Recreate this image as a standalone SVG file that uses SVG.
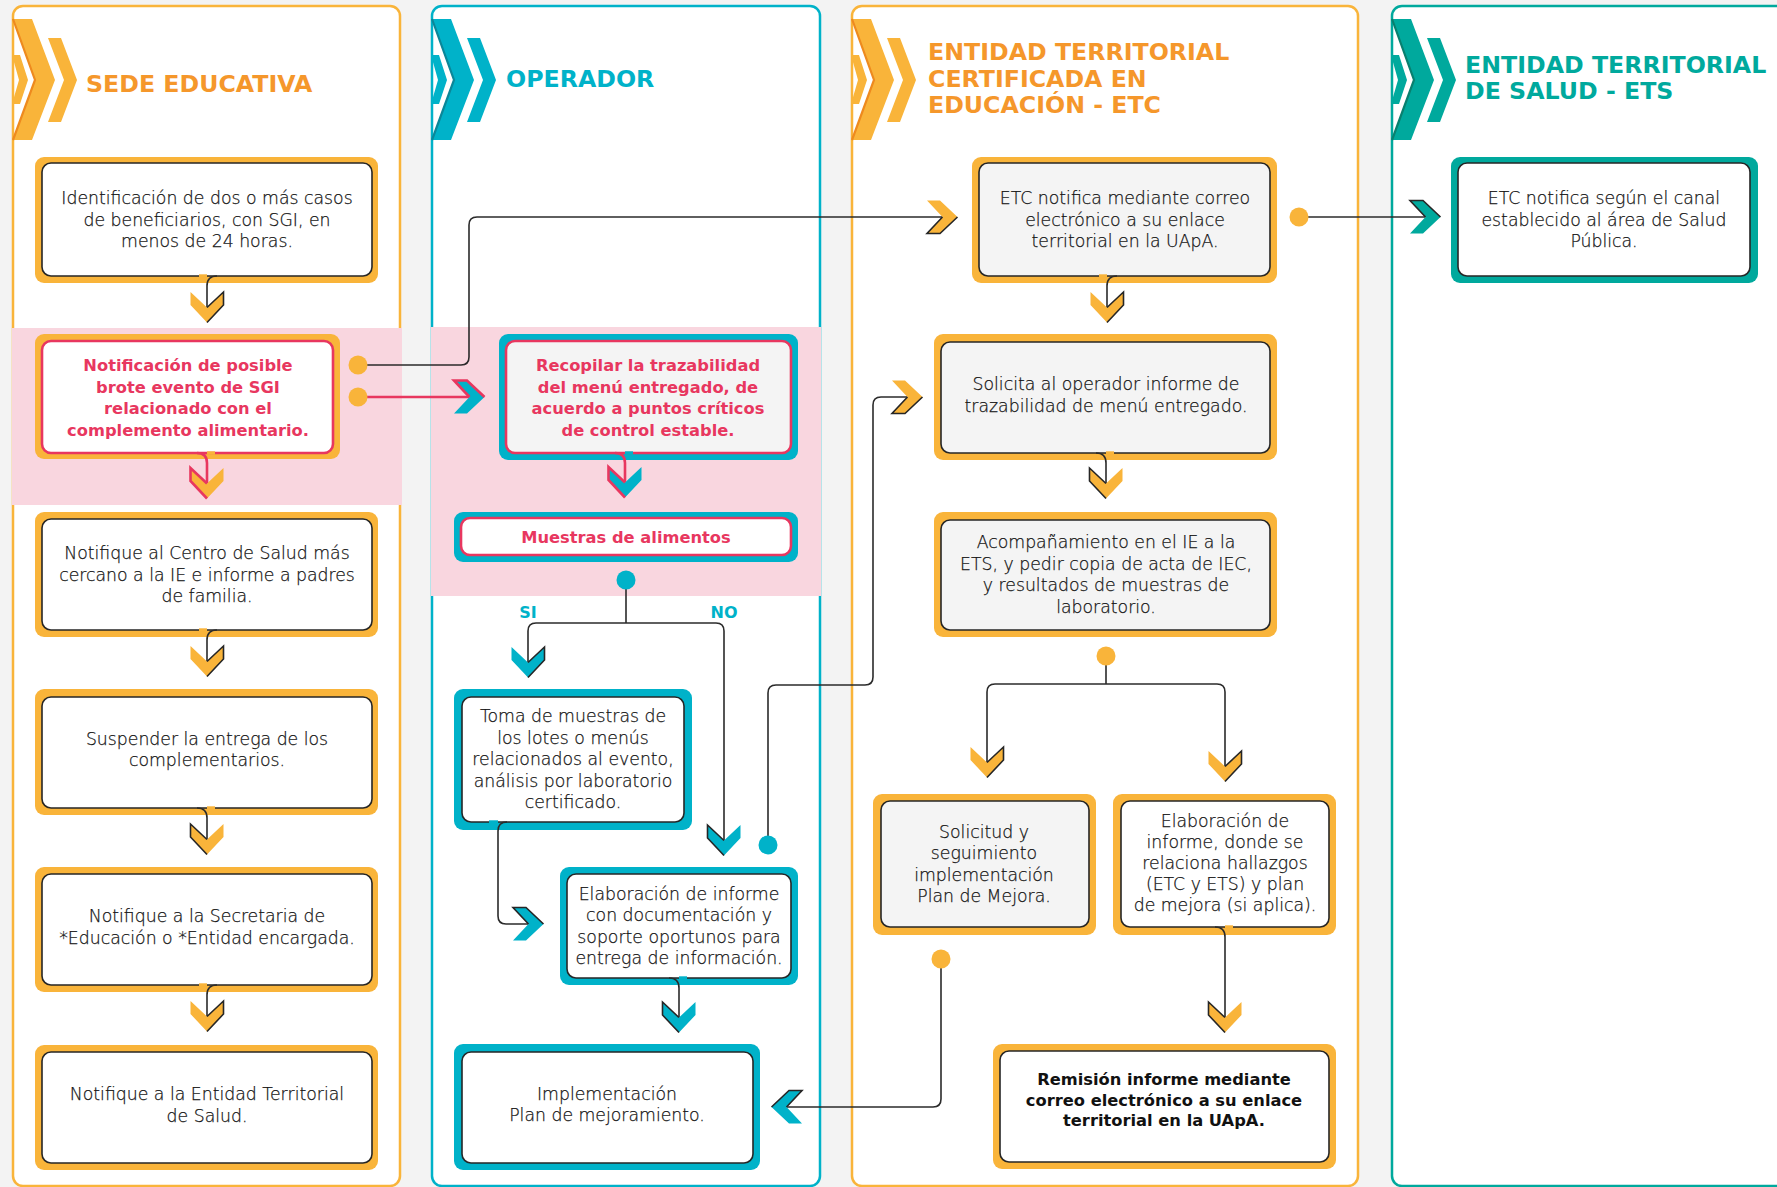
<svg xmlns="http://www.w3.org/2000/svg" width="1777" height="1187" viewBox="0 0 1777 1187">
<style>
.bg{fill:#f3f3f3}
.pnl{fill:#fff;stroke-width:2.5}
.po{stroke:#F9B43A}.pt{stroke:#00B2C9}.pg{stroke:#00A99D}
.band{fill:#F9D6DF}
.fo{fill:#F9B43A}.ft{fill:#00B2C9}.fg{fill:#00A99D}
.eo{fill:none;stroke:#EE8A1E;stroke-width:2.2}
.et{fill:none;stroke:#0A8799;stroke-width:2.2}
.eg{fill:none;stroke:#08806F;stroke-width:2.2}
.in{fill:#fff;stroke:#262626;stroke-width:1.6}
.ing{fill:#f4f4f4;stroke:#262626;stroke-width:1.6}
.inp{fill:#fff;stroke:#E8375F;stroke-width:2.6}
.inpg{fill:#f4f4f4;stroke:#E8375F;stroke-width:2.6}
.gapo{stroke:#F9B43A;stroke-width:3.4}
.gapt{stroke:#00B2C9;stroke-width:3.4}
.ttl{font-family:"DejaVu Sans","Liberation Sans",sans-serif;font-weight:700;font-size:23.7px}
.to{fill:#F5972B}.tt{fill:#00B2C9}.tg{fill:#00A99D}
.tx{font-family:"DejaVu Sans","Liberation Sans",sans-serif;font-weight:300;font-size:17.3px;fill:#161616;stroke:#161616;stroke-width:0.25;text-anchor:middle}
.txp{font-family:"DejaVu Sans","Liberation Sans",sans-serif;font-weight:700;font-size:16.3px;fill:#E8375F;text-anchor:middle}
.txb{font-family:"DejaVu Sans","Liberation Sans",sans-serif;font-weight:700;font-size:16.3px;fill:#111;text-anchor:middle}
.lbl{font-family:"DejaVu Sans","Liberation Sans",sans-serif;font-weight:700;font-size:16px;fill:#00B2C9;text-anchor:middle}
.conn{fill:none;stroke:#2b2b2b;stroke-width:1.6}
.connp{fill:none;stroke:#E8375F;stroke-width:2.6}
.ol{fill:none;stroke:#262626;stroke-width:1.6}
.olp{fill:none;stroke:#E8375F;stroke-width:2.6}
.dto{fill:#F9B43A}.dtt{fill:#00B2C9}
</style>
<defs>
<polygon id="cd" points="-16.5,0 0,15.5 16.5,0 16.5,13 0,30.5 -16.5,13"/>
<polyline id="cdR" points="0,15.5 16.5,0 16.5,13 0,30.5"/>
<polyline id="cdL" points="0,15.5 -16.5,0 -16.5,13 0,30.5"/>
<polygon id="cr" points="0,16.5 15.5,0 0,-16.5 13,-16.5 30.5,0 13,16.5"/>
<polyline id="crT" points="15.5,0 0,-16.5 13,-16.5 30.5,0"/>
<polyline id="crB" points="15.5,0 0,16.5 13,16.5 30.5,0"/>
<polygon id="cl" points="0,16.5 -15.5,0 0,-16.5 -13,-16.5 -30.5,0 -13,16.5"/>
<polyline id="clT" points="-15.5,0 0,-16.5 -13,-16.5 -30.5,0"/>
<polygon id="hs" points="-1,55 7,55 15,80 7,104 -1,104 6,80"/>
<polygon id="hb" points="0,19 19,19 42,80 19,140 0,140 22,80"/>
<polygon id="h2" points="35,38 48,38 64,80 48,122 35,122 51,80"/>
<polyline id="he" points="0,19 22,80 0,140"/>
</defs>
<rect class="bg" x="0" y="0" width="1777" height="1187"/>

<g id="lanes">
<g id="lane-sede">
<rect class="pnl po" x="13" y="6" width="387" height="1180" rx="10"/>
<g transform="translate(13,0)"><use href="#hs" class="fo"/><use href="#hb" class="fo"/><use href="#h2" class="fo"/><use href="#he" class="eo"/></g>
<text class="ttl to" x="86" y="92">SEDE EDUCATIVA</text>
</g>
<g id="lane-operador">
<rect class="pnl pt" x="432" y="6" width="388" height="1180" rx="10"/>
<g transform="translate(432,0)"><use href="#hs" class="ft"/><use href="#hb" class="ft"/><use href="#h2" class="ft"/><use href="#he" class="et"/></g>
<text class="ttl tt" x="506" y="87">OPERADOR</text>
</g>
<g id="lane-etc">
<rect class="pnl po" x="852" y="6" width="506" height="1180" rx="10"/>
<g transform="translate(852,0)"><use href="#hs" class="fo"/><use href="#hb" class="fo"/><use href="#h2" class="fo"/><use href="#he" class="eo"/></g>
<text class="ttl to" x="928" y="60">ENTIDAD TERRITORIAL</text>
<text class="ttl to" x="928" y="86.5">CERTIFICADA EN</text>
<text class="ttl to" x="928" y="113">EDUCACIÓN - ETC</text>
</g>
<g id="lane-ets">
<rect class="pnl pg" x="1392" y="6" width="420" height="1180" rx="10"/>
<g transform="translate(1392,0)"><use href="#hs" class="fg"/><use href="#hb" class="fg"/><use href="#h2" class="fg"/><use href="#he" class="eg"/></g>
<text class="ttl tg" x="1465" y="73">ENTIDAD TERRITORIAL</text>
<text class="ttl tg" x="1465" y="99">DE SALUD - ETS</text>
</g>
<rect class="band" x="12" y="328" width="390" height="177"/>
<rect class="band" x="431" y="327" width="390" height="269"/>
</g>

<g id="n-identificacion">
<rect class="fo" x="35" y="157" width="343" height="126" rx="9"/>
<rect class="in" x="42" y="163" width="330" height="113" rx="9"/>
<line class="gapo" x1="199" y1="276" x2="207" y2="276"/>
<text class="tx" x="207" y="204">Identificación de dos o más casos</text>
<text class="tx" x="207" y="225.5">de beneficiarios, con SGI, en</text>
<text class="tx" x="207" y="247">menos de 24 horas.</text>
</g>
<g id="n-notificacion-brote">
<rect class="fo" x="35" y="334" width="305" height="125" rx="9"/>
<rect class="inp" x="42" y="341" width="291" height="112" rx="9"/>
<line class="gapo" x1="207" y1="453" x2="215" y2="453"/>
<text class="txp" x="188" y="371">Notificación de posible</text>
<text class="txp" x="188" y="392.5">brote evento de SGI</text>
<text class="txp" x="188" y="414">relacionado con el</text>
<text class="txp" x="188" y="435.5">complemento alimentario.</text>
</g>
<g id="n-centro-salud">
<rect class="fo" x="35" y="512" width="343" height="125" rx="9"/>
<rect class="in" x="42" y="519" width="330" height="111" rx="9"/>
<line class="gapo" x1="199" y1="630" x2="207" y2="630"/>
<text class="tx" x="207" y="559">Notifique al Centro de Salud más</text>
<text class="tx" x="207" y="581">cercano a la IE e informe a padres</text>
<text class="tx" x="207" y="602">de familia.</text>
</g>
<g id="n-suspender">
<rect class="fo" x="35" y="689" width="343" height="126" rx="9"/>
<rect class="in" x="42" y="697" width="330" height="111" rx="9"/>
<line class="gapo" x1="207" y1="808" x2="215" y2="808"/>
<text class="tx" x="207" y="745">Suspender la entrega de los</text>
<text class="tx" x="207" y="766">complementarios.</text>
</g>
<g id="n-secretaria">
<rect class="fo" x="35" y="867" width="343" height="125" rx="9"/>
<rect class="in" x="42" y="874" width="330" height="111" rx="9"/>
<line class="gapo" x1="199" y1="985" x2="207" y2="985"/>
<text class="tx" x="207" y="922">Notifique a la Secretaria de</text>
<text class="tx" x="207" y="944">*Educación o *Entidad encargada.</text>
</g>
<g id="n-ets-notif">
<rect class="fo" x="35" y="1045" width="343" height="125" rx="9"/>
<rect class="in" x="42" y="1052" width="330" height="111" rx="9"/>
<text class="tx" x="207" y="1100">Notifique a la Entidad Territorial</text>
<text class="tx" x="207" y="1122">de Salud.</text>
</g>

<g id="n-recopilar">
<rect class="ft" x="499" y="334" width="299" height="126" rx="9"/>
<rect class="inpg" x="506" y="341" width="285" height="112" rx="9"/>
<line class="gapt" x1="625" y1="453" x2="633" y2="453"/>
<text class="txp" x="648" y="371">Recopilar la trazabilidad</text>
<text class="txp" x="648" y="392.5">del menú entregado, de</text>
<text class="txp" x="648" y="414">acuerdo a puntos críticos</text>
<text class="txp" x="648" y="435.5">de control estable.</text>
</g>
<g id="n-muestras">
<rect class="ft" x="454" y="512" width="344" height="50" rx="9"/>
<rect class="inp" x="461" y="518" width="330" height="37" rx="9"/>
<text class="txp" x="626" y="543">Muestras de alimentos</text>
</g>
<g id="n-toma">
<rect class="ft" x="454" y="689" width="238" height="141" rx="9"/>
<rect class="in" x="462" y="697" width="222" height="125" rx="9"/>
<line class="gapt" x1="489" y1="822" x2="498" y2="822"/>
<text class="tx" x="573" y="722">Toma de muestras de</text>
<text class="tx" x="573" y="743.5">los lotes o menús</text>
<text class="tx" x="573" y="765">relacionados al evento,</text>
<text class="tx" x="573" y="786.5">análisis por laboratorio</text>
<text class="tx" x="573" y="808">certificado.</text>
</g>
<g id="n-elaboracion-op">
<rect class="ft" x="560" y="867" width="238" height="118" rx="9"/>
<rect class="in" x="567" y="874" width="224" height="104" rx="9"/>
<line class="gapt" x1="679" y1="978" x2="687" y2="978"/>
<text class="tx" x="679" y="899.5">Elaboración de informe</text>
<text class="tx" x="679" y="921">con documentación y</text>
<text class="tx" x="679" y="942.5">soporte oportunos para</text>
<text class="tx" x="679" y="964">entrega de información.</text>
</g>
<g id="n-implementacion">
<rect class="ft" x="454" y="1044" width="306" height="126" rx="9"/>
<rect class="in" x="462" y="1052" width="291" height="111" rx="9"/>
<text class="tx" x="607" y="1100">Implementación</text>
<text class="tx" x="607" y="1121">Plan de mejoramiento.</text>
</g>

<g id="n-etc-notifica">
<rect class="fo" x="972" y="157" width="305" height="126" rx="9"/>
<rect class="ing" x="979" y="163" width="291" height="113" rx="9"/>
<line class="gapo" x1="1099" y1="276" x2="1107" y2="276"/>
<text class="tx" x="1125" y="204">ETC notifica mediante correo</text>
<text class="tx" x="1125" y="225.5">electrónico a su enlace</text>
<text class="tx" x="1125" y="247">territorial en la UApA.</text>
</g>
<g id="n-solicita">
<rect class="fo" x="934" y="334" width="343" height="126" rx="9"/>
<rect class="ing" x="941" y="342" width="329" height="111" rx="9"/>
<line class="gapo" x1="1106" y1="453" x2="1114" y2="453"/>
<text class="tx" x="1106" y="390">Solicita al operador informe de</text>
<text class="tx" x="1106" y="412">trazabilidad de menú entregado.</text>
</g>
<g id="n-acompanamiento">
<rect class="fo" x="934" y="512" width="343" height="125" rx="9"/>
<rect class="ing" x="941" y="520" width="329" height="110" rx="9"/>
<text class="tx" x="1106" y="548">Acompañamiento en el IE a la</text>
<text class="tx" x="1106" y="569.5">ETS, y pedir copia de acta de IEC,</text>
<text class="tx" x="1106" y="591">y resultados de muestras de</text>
<text class="tx" x="1106" y="612.5">laboratorio.</text>
</g>
<g id="n-solicitud-plan">
<rect class="fo" x="873" y="794" width="223" height="141" rx="9"/>
<rect class="ing" x="881" y="801" width="208" height="126" rx="9"/>
<text class="tx" x="984" y="837.5">Solicitud y</text>
<text class="tx" x="984" y="859">seguimiento</text>
<text class="tx" x="984" y="880.5">implementación</text>
<text class="tx" x="984" y="902">Plan de Mejora.</text>
</g>
<g id="n-elaboracion-etc">
<rect class="fo" x="1113" y="794" width="223" height="141" rx="9"/>
<rect class="in" x="1121" y="801" width="208" height="126" rx="9"/>
<line class="gapo" x1="1225" y1="927" x2="1233" y2="927"/>
<text class="tx" x="1225" y="827">Elaboración de</text>
<text class="tx" x="1225" y="848">informe, donde se</text>
<text class="tx" x="1225" y="869">relaciona hallazgos</text>
<text class="tx" x="1225" y="890">(ETC y ETS) y plan</text>
<text class="tx" x="1225" y="911">de mejora (si aplica).</text>
</g>
<g id="n-remision">
<rect class="fo" x="993" y="1044" width="343" height="125" rx="9"/>
<rect class="in" x="1000" y="1051" width="329" height="111" rx="9"/>
<text class="txb" x="1164" y="1085">Remisión informe mediante</text>
<text class="txb" x="1164" y="1106">correo electrónico a su enlace</text>
<text class="txb" x="1164" y="1126">territorial en la UApA.</text>
</g>

<g id="n-ets-salud">
<rect class="fg" x="1451" y="157" width="307" height="126" rx="9"/>
<rect class="in" x="1458" y="163" width="292" height="113" rx="9"/>
<text class="tx" x="1604" y="204">ETC notifica según el canal</text>
<text class="tx" x="1604" y="225.5">establecido al área de Salud</text>
<text class="tx" x="1604" y="247">Pública.</text>
</g>

<g id="connectors">
<path class="conn" d="M217,276 Q207,276 207,286 V307.5"/>
<use href="#cd" class="fo" x="207" y="292"/><use href="#cdR" class="ol" x="207" y="292"/>
<path class="connp" d="M197,453 Q207,453 207,463 V483.5"/>
<use href="#cd" class="fo" x="207" y="468"/><use href="#cdL" class="olp" x="207" y="468"/>
<path class="conn" d="M217,630 Q207,630 207,640 V661.5"/>
<use href="#cd" class="fo" x="207" y="646"/><use href="#cdR" class="ol" x="207" y="646"/>
<path class="conn" d="M197,808 Q207,808 207,818 V839.5"/>
<use href="#cd" class="fo" x="207" y="824"/><use href="#cdL" class="ol" x="207" y="824"/>
<path class="conn" d="M217,985 Q207,985 207,995 V1016.5"/>
<use href="#cd" class="fo" x="207" y="1001"/><use href="#cdR" class="ol" x="207" y="1001"/>

<path class="conn" d="M358,365 H461 Q469,365 469,357 V225 Q469,217 477,217 H942.5"/>
<use href="#cr" class="fo" x="927" y="217"/><use href="#crB" class="ol" x="927" y="217"/>
<circle class="dto" cx="358" cy="365" r="9.5"/>
<path class="connp" d="M358,397 H469.5"/>
<use href="#cr" class="ft" x="454" y="397"/><use href="#crT" class="olp" x="454" y="397"/>
<circle class="dto" cx="358" cy="397" r="9.5"/>

<path class="connp" d="M615,453 Q625,453 625,463 V482.5"/>
<use href="#cd" class="ft" x="625" y="467"/><use href="#cdL" class="olp" x="625" y="467"/>
<path class="conn" d="M626,580 V623 M626,623 H536 Q528,623 528,631 V662.5 M626,623 H716 Q724,623 724,631 V840.5"/>
<circle class="dtt" cx="626" cy="580" r="9.5"/>
<text class="lbl" x="528" y="618">SI</text>
<text class="lbl" x="724" y="618">NO</text>
<use href="#cd" class="ft" x="528" y="647"/><use href="#cdR" class="ol" x="528" y="647"/>
<use href="#cd" class="ft" x="724" y="825"/><use href="#cdL" class="ol" x="724" y="825"/>
<path class="conn" d="M507,822 Q498,822 498,831 V916 Q498,924 506,924 H528.5"/>
<use href="#cr" class="ft" x="513" y="924"/><use href="#crT" class="ol" x="513" y="924"/>
<path class="conn" d="M768,845 V693 Q768,685 776,685 H865 Q873,685 873,677 V405 Q873,397 881,397 H907.5"/>
<circle class="dtt" cx="768" cy="845" r="9.5"/>
<use href="#cr" class="fo" x="892" y="397"/><use href="#crB" class="ol" x="892" y="397"/>
<path class="conn" d="M669,978 Q679,978 679,988 V1017.5"/>
<use href="#cd" class="ft" x="679" y="1002"/><use href="#cdL" class="ol" x="679" y="1002"/>
<path class="conn" d="M941,959 V1099 Q941,1107 933,1107 H786.5"/>
<circle class="dto" cx="941" cy="959" r="9.5"/>
<use href="#cl" class="ft" x="802" y="1107"/><use href="#clT" class="ol" x="802" y="1107"/>

<path class="conn" d="M1117,276 Q1107,276 1107,286 V307.5"/>
<use href="#cd" class="fo" x="1107" y="292"/><use href="#cdR" class="ol" x="1107" y="292"/>
<path class="conn" d="M1299,217 H1425.5"/>
<circle class="dto" cx="1299" cy="217" r="9.5"/>
<use href="#cr" class="fg" x="1410" y="217"/><use href="#crT" class="ol" x="1410" y="217"/>
<path class="conn" d="M1096,453 Q1106,453 1106,463 V483.5"/>
<use href="#cd" class="fo" x="1106" y="468"/><use href="#cdL" class="ol" x="1106" y="468"/>
<path class="conn" d="M1106,656 V684 M1106,684 H995 Q987,684 987,692 V762.5 M1106,684 H1217 Q1225,684 1225,692 V766.5"/>
<circle class="dto" cx="1106" cy="656" r="9.5"/>
<use href="#cd" class="fo" x="987" y="747"/><use href="#cdR" class="ol" x="987" y="747"/>
<use href="#cd" class="fo" x="1225" y="751"/><use href="#cdR" class="ol" x="1225" y="751"/>
<path class="conn" d="M1215,927 Q1225,927 1225,937 V1017.5"/>
<use href="#cd" class="fo" x="1225" y="1002"/><use href="#cdL" class="ol" x="1225" y="1002"/>
</g>
</svg>
